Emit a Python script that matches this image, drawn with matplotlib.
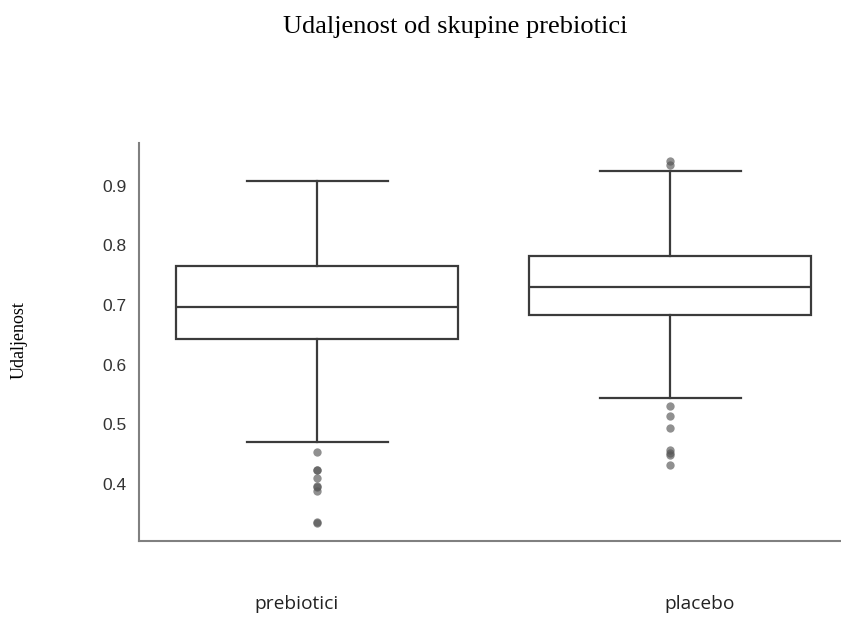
import matplotlib as mpl
mpl.use('Agg')
import matplotlib.pyplot as plt

# group names and box statistics
groups = ['prebiotici', 'placebo']
whislo = [0.470, 0.544]
q1 = [0.643, 0.684]
med = [0.697, 0.730]
q3 = [0.766, 0.783]
whishi = [0.908, 0.925]
fliers = [
    [0.454, 0.424, 0.423, 0.409, 0.396, 0.394, 0.388, 0.336, 0.334],
    [0.942, 0.935, 0.530, 0.513, 0.494, 0.457, 0.451, 0.449, 0.432],
]
yticks = [0.4, 0.5, 0.6, 0.7, 0.8, 0.9]

fig = plt.figure(figsize=(8.41, 6.19), dpi=100)
ax = fig.add_axes([139 / 841, 78 / 619, 702 / 841, 398 / 619])

stats = []
for i, g in enumerate(groups):
    stats.append(dict(label=g, whislo=whislo[i], q1=q1[i], med=med[i],
                      q3=q3[i], whishi=whishi[i], fliers=fliers[i]))

line_col = '#3b3b3b'
ax.bxp(stats, positions=[0, 1], widths=0.8, patch_artist=True,
       boxprops=dict(facecolor='white', edgecolor=line_col, linewidth=1.6),
       medianprops=dict(color=line_col, linewidth=1.6),
       whiskerprops=dict(color=line_col, linewidth=1.6),
       capprops=dict(color=line_col, linewidth=1.6),
       flierprops=dict(marker='o', markersize=6, markerfacecolor='#555555',
                       markeredgecolor='none', alpha=0.65),
       capwidths=0.4)

ax.set_xlim(-0.505, 1.484)
ax.set_ylim(0.304, 0.972)
ax.set_yticks(yticks)
ax.set_yticklabels(['%.1f' % t for t in yticks], fontsize=12.5,
                   family='Liberation Sans', color='#333333')
ax.tick_params(axis='y', length=0, pad=9)
ax.set_xticks([])
for s in ['top', 'right']:
    ax.spines[s].set_visible(False)
for s in ['left', 'bottom']:
    ax.spines[s].set_color('#808080')
    ax.spines[s].set_linewidth(1.5)

# labels placed as in the reference
fig.text(297 / 841, 1 - 604 / 619, groups[0], ha='center', va='center',
         fontsize=13.8, family='Open Sans', color='#222222')
fig.text(700 / 841, 1 - 604 / 619, groups[1], ha='center', va='center',
         fontsize=13.8, family='Open Sans', color='#222222')
fig.text(455 / 841, 1 - 27 / 619, 'Udaljenost od skupine prebiotici',
         ha='center', va='center', fontsize=19, family='Liberation Serif')
fig.text(19 / 841, 1 - 340 / 619, 'Udaljenost', rotation=90, ha='center',
         va='center', fontsize=13, family='Liberation Serif')

plt.savefig('out.png', dpi=100)
